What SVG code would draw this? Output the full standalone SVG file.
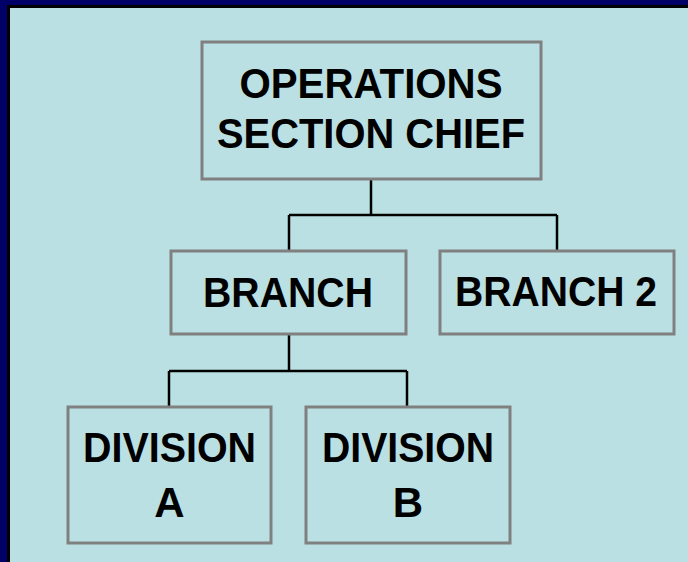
<svg xmlns="http://www.w3.org/2000/svg" width="688" height="562" viewBox="0 0 688 562">
<style>
.box{fill:#BAE0E3;stroke:#808080;stroke-width:3}
.t{font-family:"Liberation Sans",Arial,sans-serif;font-weight:bold;font-size:42px;fill:#000;text-anchor:middle}
.c{fill:none;stroke:#000;stroke-width:2.5}
</style>
<rect x="0" y="0" width="688" height="562" fill="#000066"/>
<rect x="7" y="5" width="681" height="557" fill="#000"/>
<rect x="10" y="8" width="678" height="554" fill="#BAE0E3"/>
<g id="connectors">
<path class="c" d="M371 179V215M289 215H557M289 215V251M557 215V251"/>
<path class="c" d="M289 334V371M169 371H407M169 371V407M407 371V407"/>
</g>
<g id="ops">
<rect class="box" x="202" y="42" width="339" height="137"/>
<text class="t" x="371" y="98" textLength="263" lengthAdjust="spacingAndGlyphs">OPERATIONS</text>
<text class="t" x="371" y="148" textLength="308" lengthAdjust="spacingAndGlyphs">SECTION CHIEF</text>
</g>
<g id="branch">
<rect class="box" x="171" y="251" width="235" height="83"/>
<text class="t" x="288" y="307" textLength="170" lengthAdjust="spacingAndGlyphs">BRANCH</text>
</g>
<g id="branch2">
<rect class="box" x="440" y="251" width="234" height="83"/>
<text class="t" x="556" y="306" textLength="202" lengthAdjust="spacingAndGlyphs">BRANCH 2</text>
</g>
<g id="divA">
<rect class="box" x="68" y="407" width="203" height="136"/>
<text class="t" x="169.5" y="462" textLength="173" lengthAdjust="spacingAndGlyphs">DIVISION</text>
<text class="t" x="169.5" y="517">A</text>
</g>
<g id="divB">
<rect class="box" x="306" y="407" width="204" height="136"/>
<text class="t" x="408" y="462" textLength="172" lengthAdjust="spacingAndGlyphs">DIVISION</text>
<text class="t" x="408" y="517">B</text>
</g>
</svg>
